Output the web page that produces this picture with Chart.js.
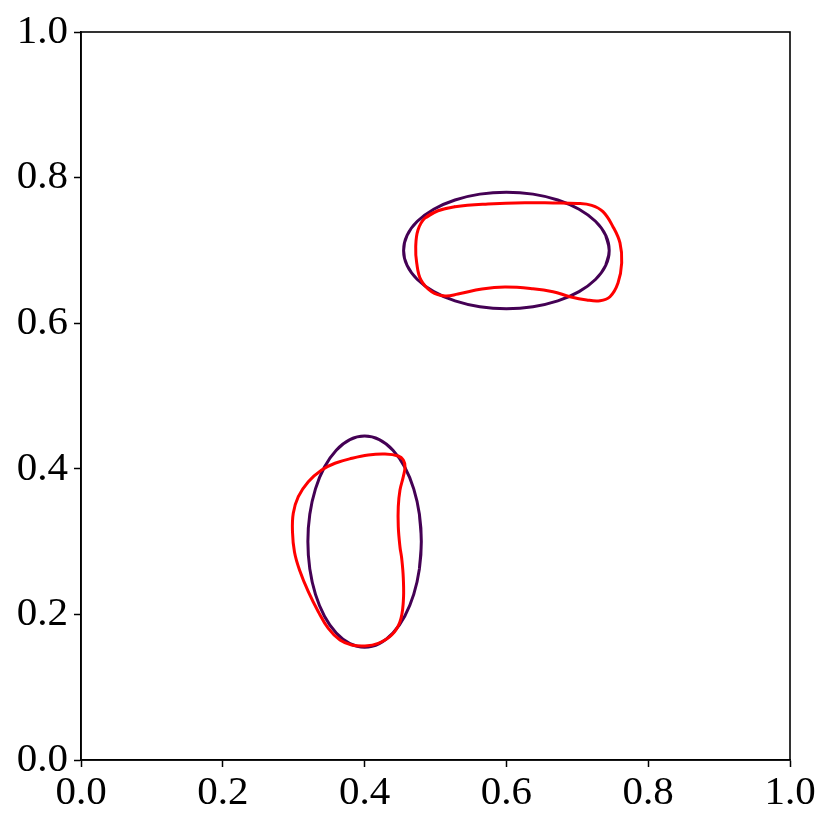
<!DOCTYPE html>
<html>
<head>
<meta charset="utf-8">
<script src="https://cdn.jsdelivr.net/npm/chart.js@4/dist/chart.umd.min.js"></script>
<style>
  body { margin: 0; background: #fff; }
  #wrap { width: 831px; height: 831px; }
</style>
</head>
<body>
<div id="wrap"><canvas id="shapes" width="831" height="831"></canvas></div>
<script>
const tickValues = [0, 0.2, 0.4, 0.6, 0.8, 1.0];

// purple reference ellipses, points read around the outline
const upperEllipseX = [0.745, 0.7401, 0.7256, 0.7025, 0.6725, 0.6375, 0.6, 0.5625, 0.5275, 0.4975, 0.4744, 0.4599,
  0.455, 0.4599, 0.4744, 0.4975, 0.5275, 0.5625, 0.6, 0.6375, 0.6725, 0.7025, 0.7256, 0.7401];
const upperEllipseY = [0.7, 0.7207, 0.74, 0.7566, 0.7693, 0.7773, 0.78, 0.7773, 0.7693, 0.7566, 0.74, 0.7207,
  0.7, 0.6793, 0.66, 0.6434, 0.6307, 0.6227, 0.62, 0.6227, 0.6307, 0.6434, 0.66, 0.6793];

const lowerEllipseX = [0.48, 0.4773, 0.4693, 0.4566, 0.44, 0.4207, 0.4, 0.3793, 0.36, 0.3434, 0.3307, 0.3227,
  0.32, 0.3227, 0.3307, 0.3434, 0.36, 0.3793, 0.4, 0.4207, 0.44, 0.4566, 0.4693, 0.4773];
const lowerEllipseY = [0.3, 0.3375, 0.3725, 0.4025, 0.4256, 0.4401, 0.445, 0.4401, 0.4256, 0.4025, 0.3725, 0.3375,
  0.3, 0.2625, 0.2275, 0.1975, 0.1744, 0.1599, 0.155, 0.1599, 0.1744, 0.1975, 0.2275, 0.2625];

// red deformed shapes
const upperShapeX = [0.5035, 0.5275, 0.574, 0.6262, 0.6657, 0.7, 0.7203, 0.7362, 0.7503, 0.7602, 0.7626, 0.7574,
  0.7461, 0.732, 0.7133, 0.6897, 0.6657, 0.6375, 0.598, 0.5656, 0.5317, 0.5134, 0.4946, 0.4795, 0.4735, 0.4721,
  0.4753, 0.4852];
const upperShapeY = [0.7545, 0.76, 0.7637, 0.7655, 0.7652, 0.7645, 0.7618, 0.7532, 0.7326, 0.7102, 0.6827, 0.6552,
  0.6364, 0.6309, 0.6319, 0.6364, 0.6433, 0.6474, 0.6497, 0.647, 0.6401, 0.6374, 0.6433, 0.6593, 0.6827, 0.7051,
  0.728, 0.7445];

const lowerShapeX = [0.4546, 0.4475, 0.4288, 0.4052, 0.3818, 0.3582, 0.3395, 0.3206, 0.3065, 0.2994, 0.2983, 0.3011,
  0.3082, 0.3206, 0.3347, 0.3488, 0.3653, 0.3818, 0.4006, 0.4193, 0.4382, 0.4499, 0.4546, 0.4546, 0.4523, 0.4499,
  0.4475, 0.4475, 0.4499, 0.4546, 0.457];
const lowerShapeY = [0.4121, 0.4176, 0.4203, 0.419, 0.4144, 0.4076, 0.3984, 0.3823, 0.3617, 0.3389, 0.3132, 0.2857,
  0.261, 0.2312, 0.2037, 0.1809, 0.1648, 0.158, 0.1566, 0.1603, 0.1717, 0.19, 0.2174, 0.2496, 0.2771, 0.2926,
  0.3205, 0.348, 0.3709, 0.3892, 0.4029];

// wrap the outline round so the smoothed line closes without a kink
function loop(xs, ys) {
  const pts = xs.map((x, i) => ({ x, y: ys[i] }));
  return [pts[pts.length - 1], ...pts, pts[0], pts[1]];
}

function outline(xs, ys, color, order) {
  return {
    data: loop(xs, ys),
    showLine: true,
    borderColor: color,
    borderWidth: 3,
    pointRadius: 0,
    tension: 0.4,
    fill: false,
    order
  };
}

const frame = {
  id: "frame",
  afterDraw(chart) {
    const { ctx, chartArea: a } = chart;
    ctx.save();
    ctx.strokeStyle = "#000";
    ctx.lineWidth = 1.6;
    ctx.strokeRect(a.left, a.top, a.right - a.left, a.bottom - a.top);
    ctx.restore();
  }
};

Chart.defaults.font.family = "'Liberation Serif', serif";
Chart.defaults.font.size = 41;
Chart.defaults.color = "#000";

const axis = {
  type: "linear",
  min: 0,
  max: 1,
  afterBuildTicks: scale => { scale.ticks = tickValues.map(v => ({ value: v })); },
  ticks: {
    callback: v => v.toFixed(1),
    maxRotation: 0,
    autoSkip: false,
    padding: 6
  },
  grid: {
    drawOnChartArea: false,
    drawTicks: true,
    tickLength: 7,
    tickWidth: 1.5,
    tickColor: "#000"
  },
  border: { color: "#000", width: 1.6 }
};

new Chart(document.getElementById("shapes"), {
  type: "scatter",
  data: {
    datasets: [
      outline(upperEllipseX, upperEllipseY, "#440154", 2),
      outline(lowerEllipseX, lowerEllipseY, "#440154", 2),
      outline(upperShapeX, upperShapeY, "#ff0000", 1),
      outline(lowerShapeX, lowerShapeY, "#ff0000", 1)
    ]
  },
  options: {
    responsive: false,
    animation: false,
    layout: { padding: { left: 0, top: 32, right: 41, bottom: 0 } },
    plugins: { legend: { display: false }, tooltip: { enabled: false } },
    scales: {
      x: { ...axis, position: "bottom", ticks: { ...axis.ticks, padding: 2 }, afterFit: s => { s.height = 71; } },
      y: { ...axis, position: "left", afterFit: s => { s.width = 81; } }
    }
  },
  plugins: [frame]
});
</script>
</body>
</html>
